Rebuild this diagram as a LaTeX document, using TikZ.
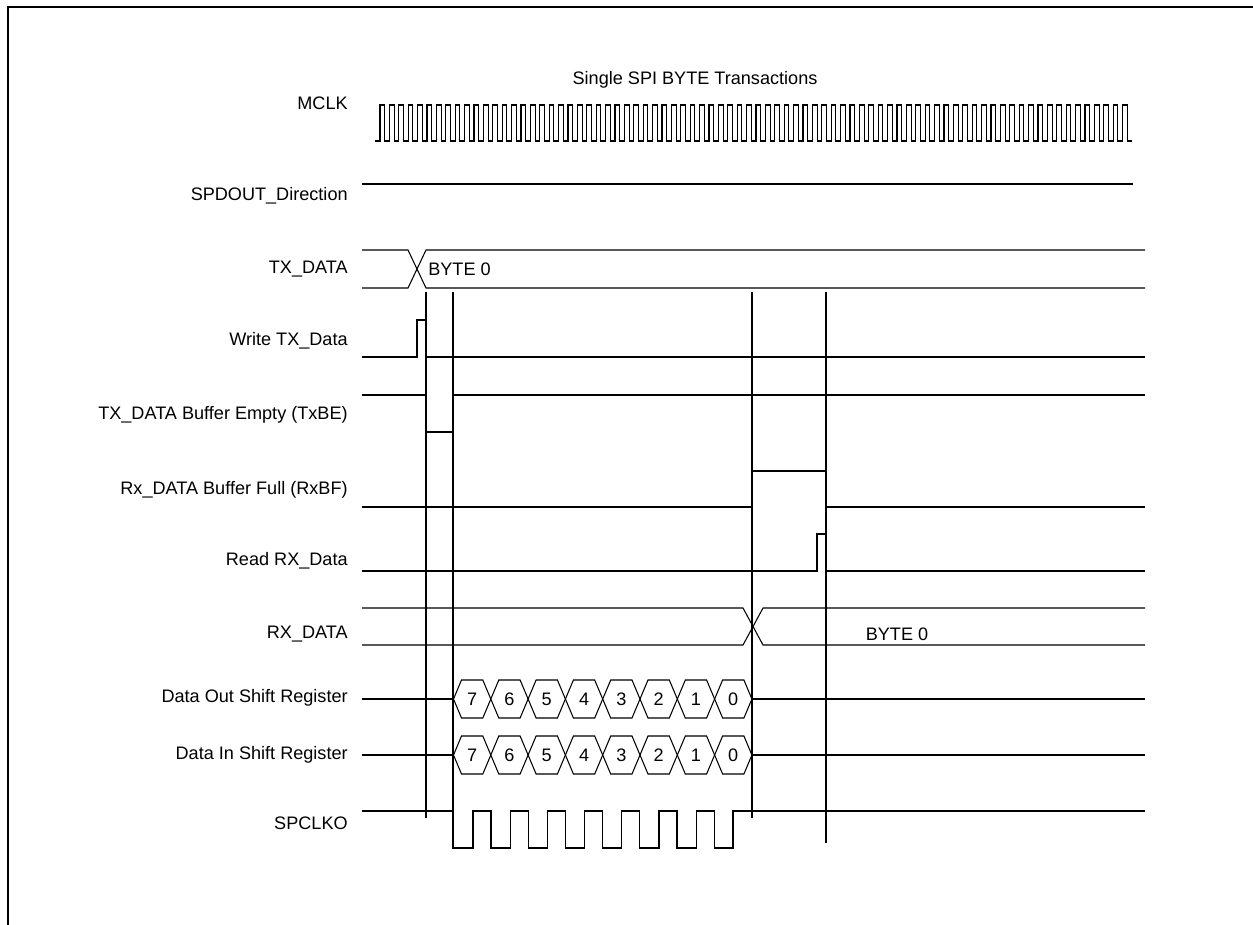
\documentclass[tikz,border=0pt]{standalone}
\usepackage{fontspec}
\setmainfont{Liberation Sans}
\usetikzlibrary{positioning}
\begin{document}
\begin{tikzpicture}[x=0.02cm, y=-0.02cm,
      sig/.style={line width=0.6pt, line join=miter},
      lbl/.style={anchor=east, inner sep=0pt, font=\fontsize{10.3}{12}\selectfont},
      txt/.style={inner sep=0pt, font=\fontsize{10.3}{12}\selectfont}]
    \useasboundingbox (0,0) rectangle (1253,924);
    \draw[line width=1.6pt] (8,940) -- (8,7) -- (1265,7);
    \node[txt] (title) at (695,80) {Single SPI BYTE Transactions};
    % signal labels
    \foreach \nm/\y/\tx in {mclk/103/MCLK, spdout/196/SPDOUT\_Direction, txdata/269/TX\_DATA,
        wrtx/341/Write TX\_Data, txbe/415/TX\_DATA Buffer Empty (TxBE),
        rxbf/490/Rx\_DATA Buffer Full (RxBF), rdrx/561/Read RX\_Data\ , rxdata/634/RX\_DATA,
        dout/698/Data Out Shift Register, din/755/Data In Shift Register, spclko/823/SPCLKO}
      \node[lbl] (\nm) at (348,\y) {\tx};
    % MCLK
    \draw[sig] (375,141) foreach \k in {0,...,79} {
        -- ({380+\k*9.4},141) -- ({380+\k*9.4},105) -- ({384.7+\k*9.4},105) -- ({384.7+\k*9.4},141)
      } -- (1132,141);
    % SPDOUT_Direction
    \draw[sig] (362,184) -- (1133,184);
    % TX_DATA bus
    \draw[sig] (362,250) -- (408,250) -- (426,288) -- (1145,288);
    \draw[sig] (362,288) -- (408,288) -- (426,250) -- (1145,250);
    \node[txt, anchor=west] (txbyte) at (428,269) {BYTE 0};
    % Write TX_Data / TxBE
    \draw[sig] (362,357) -- (417,357) -- (417,320) -- (426,320) -- (426,357) -- (1145,357);
    \draw[sig] (362,395) -- (426,395) -- (426,432) -- (453,432) -- (453,395) -- (1145,395);
    % RxBF / Read RX_Data
    \draw[sig] (362,507) -- (752,507) -- (752,471) -- (826,471) -- (826,507) -- (1145,507);
    \draw[sig] (362,571) -- (817,571) -- (817,534) -- (826,534) -- (826,571) -- (1145,571);
    % RX_DATA bus
    \draw[sig] (362,608) -- (743,608) -- (763,645) -- (1145,645);
    \draw[sig] (362,645) -- (743,645) -- (763,608) -- (1145,608);
    \node[txt] (rxbyte) at (897,634) {BYTE 0};
    % shift registers: row / name prefix
    \foreach \c/\p in {699/o, 755/i} {
      \draw[sig] (362,\c) -- (453.5,\c);
      \draw[sig] (752,\c) -- (1145,\c);
      \foreach \k in {0,...,7} {
        \pgfmathsetmacro{\xa}{453.5+\k*37.3}
        \pgfmathsetmacro{\xb}{\xa+37.3}
        \pgfmathtruncatemacro{\bit}{7-\k}
        \draw[sig] (\xa,\c) -- (\xa+8,\c-19) -- (\xb-8,\c-19) -- (\xb,\c)
          -- (\xb-8,\c+19) -- (\xa+8,\c+19) -- cycle;
        \node[txt] (\p\bit) at ({(\xa+\xb)/2},\c) {\bit};
      }
    }
    % SPCLKO
    \draw[sig] (362,811) -- (453,811) -- (453,848) foreach \k in {0,...,6} {
        -- ({473+\k*37.2},848) -- ({473+\k*37.2},811) -- ({491+\k*37.2},811) -- ({491+\k*37.2},848)
      } -- (733,848) -- (733,811) -- (1145,811);
    % event markers
    \foreach \x/\yb in {426/818, 453/848, 752/818, 826/843}
      \draw[sig] (\x,292) -- (\x,\yb);
  \end{tikzpicture}
\end{document}
